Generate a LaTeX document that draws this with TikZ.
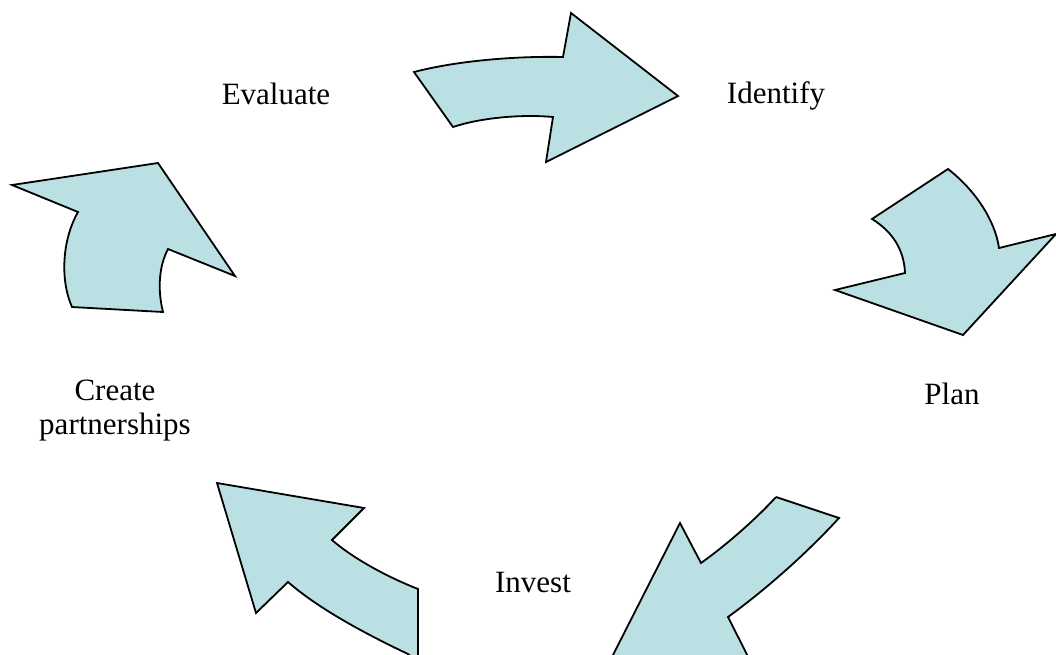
\documentclass[tikz,border=0pt]{standalone}
\usepackage{fontspec}
\setmainfont{Liberation Serif}
\usepackage{tikz}
\definecolor{cyclefill}{HTML}{BBE0E3}
\tikzset{
    blockarrow/.style={draw=black, fill=cyclefill, line width=0.9pt, line join=miter},
    steplabel/.style={font=\fontsize{15.5}{17}\selectfont, align=center}}

\begin{document}
\begin{tikzpicture}[x=0.5pt, y=-0.5pt]

            \useasboundingbox (0,0) rectangle (1056,654);

            \node[steplabel] (evaluate) at (276,94) {Evaluate};
            \node[steplabel] (identify) at (776,96) {Identify};
            \node[steplabel] (plan) at (952,394) {Plan};
            \node[steplabel] (partners) at (115,411) {Create\\partnerships};
            \node[steplabel] (invest) at (533,582) {Invest};

            \begin{scope}
            \clip (0,0) rectangle (1056,654);
            \draw[blockarrow] (414,72) .. controls (460,60) and (520,56) .. (563,57) -- (571,13) -- (678,96)
                -- (546,162) -- (553,117) .. controls (520,114) and (480,118) .. (453,127) -- cycle;
            \draw[blockarrow] (948,169) .. controls (975,190) and (995,220) .. (999,248) -- (1056,234) -- (963,335)
                -- (835,290) -- (905,273) .. controls (904,250) and (893,232) .. (872,219) -- cycle;
            \draw[blockarrow] (776,497) -- (839,518) .. controls (805,555) and (765,590) .. (728,617) -- (770,700)
                -- (580,720) -- (680,523) -- (701,563) .. controls (725,546) and (755,520) .. (776,497);
            \draw[blockarrow] (217,483) -- (364,508) -- (332,540) .. controls (355,560) and (390,578) .. (418,589)
                -- (418,680) -- (440,680) -- (408,654) .. controls (370,636) and (320,610) .. (288,582) -- (256,613) -- cycle;
            \draw[blockarrow] (158,163) -- (235,276) -- (168,249) .. controls (158,268) and (158,292) .. (163,312)
                -- (72,307) .. controls (60,280) and (62,240) .. (78,212) -- (12,185) -- cycle;
            \end{scope}

        \end{tikzpicture}
\end{document}
